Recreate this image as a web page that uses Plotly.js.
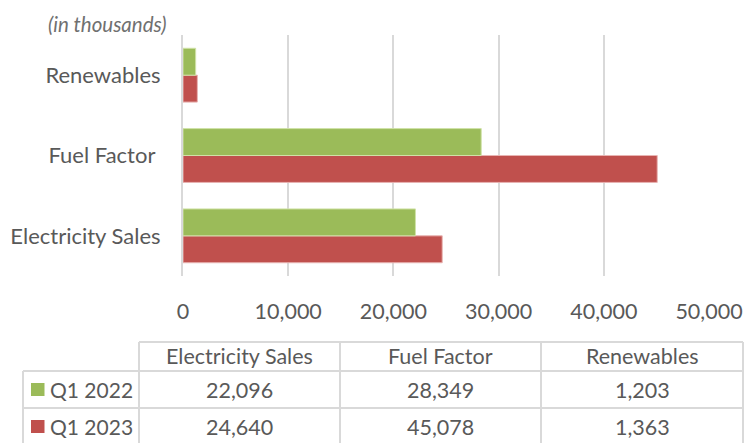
<!DOCTYPE html>
<html>
<head>
<meta charset="utf-8">
<script src="https://cdn.plot.ly/plotly-3.0.1.min.js"></script>
<style>html,body{margin:0;padding:0;background:#fff;}#chart{width:745px;height:443px;}</style>
</head>
<body>
<div id="chart"></div>
<script>
var categories = ['Electricity Sales', 'Fuel Factor', 'Renewables'];
var categoryTickLabels = ['Electricity Sales', 'Fuel Factor\u00A0', 'Renewables'];
var seriesNames = ['Q1 2022', 'Q1 2023'];
var q1_2022 = [22096, 28349, 1203];
var q1_2023 = [24640, 45078, 1363];
var xTicks = [0, 10000, 20000, 30000, 40000, 50000];
var unitNote = '(in thousands)';

var GREEN = '#9BBB59', RED = '#C0504D', GRID = '#D9D9D9', TXT = '#595959';
var FONT = 'Lato, "Open Sans", sans-serif';
var W = 745, H = 443;
var L = 183, R = 709, T = 35, B = 276;
function px(x) { return (x - L) / (R - L); }
function py(y) { return (B - y) / (B - T); }
function fmt(v) { return v.toLocaleString('en-US'); }

var traces = [
  { type: 'bar', orientation: 'h', name: seriesNames[1], y: categories, x: q1_2023,
    marker: { color: RED, line: { color: '#E8B4B2', width: 1 } }, hoverinfo: 'x+name' },
  { type: 'bar', orientation: 'h', name: seriesNames[0], y: categories, x: q1_2022,
    marker: { color: GREEN, line: { color: '#D0E2A8', width: 1 } }, hoverinfo: 'x+name' }
];

var shapes = [];
var annotations = [];
function line(x0, y0, x1, y1) {
  shapes.push({ type: 'line', xref: 'paper', yref: 'paper', x0: px(x0), y0: py(y0), x1: px(x1), y1: py(y1),
    line: { color: GRID, width: 2 }, layer: 'above' });
}
// table geometry
var colX = [23, 139, 340, 541, 743];
var rowY = [342, 371, 408, 450];
line(colX[1], rowY[0], colX[4], rowY[0]);
line(colX[0], rowY[1], colX[4], rowY[1]);
line(colX[0], rowY[2], colX[4], rowY[2]);
line(colX[0], rowY[1], colX[0], rowY[3]);
for (var c = 1; c < colX.length; c++) line(colX[c], rowY[0], colX[c], rowY[3]);

function txt(x, y, s, anchor, size, italic, color) {
  annotations.push({ xref: 'paper', yref: 'paper', x: px(x), y: py(y), text: s, showarrow: false,
    xanchor: anchor || 'center', yanchor: 'middle',
    font: { family: FONT, size: size || 21.5, color: color || TXT, style: italic ? 'italic' : 'normal' } });
}
// header
for (var i = 0; i < categories.length; i++) {
  txt((colX[i + 1] + colX[i + 2]) / 2, 356, categories[i]);
}
var tableRows = [q1_2022, q1_2023];
var rowColors = [GREEN, RED];
var rowCenters = [389.5, 426.5];
for (var r = 0; r < 2; r++) {
  var yc = rowCenters[r];
  shapes.push({ type: 'rect', xref: 'paper', yref: 'paper', x0: px(31), x1: px(44.5), y0: py(yc - 6.5), y1: py(yc + 6.5),
    fillcolor: rowColors[r], line: { width: 0 } });
  txt(47.5, yc, seriesNames[r], 'left', 21);
  for (var k = 0; k < categories.length; k++) {
    txt((colX[k + 1] + colX[k + 2]) / 2, yc, fmt(tableRows[r][k]));
  }
}
txt(46, 24, unitNote, 'left', 20.5, true, '#707070');

var layout = {
  width: W, height: H,
  margin: { l: L, r: W - R, t: T, b: H - B, pad: 0 },
  paper_bgcolor: '#fff', plot_bgcolor: '#fff',
  barmode: 'group', bargap: 0.33, bargroupgap: 0,
  showlegend: false,
  font: { family: FONT, color: TXT, size: 20 },
  xaxis: { range: [0, 50000], tickvals: xTicks, ticktext: xTicks.map(fmt), showgrid: true, gridcolor: GRID, gridwidth: 2,
    zeroline: false, showline: false, ticks: '', ticklabelstandoff: 20, tickfont: { family: FONT, size: 21.5, color: TXT }, fixedrange: true },
  yaxis: { type: 'category', categoryorder: 'array', categoryarray: categories, tickvals: categories, ticktext: categoryTickLabels,
    showgrid: false, zeroline: false, showline: true, linecolor: GRID, linewidth: 2, ticks: '', ticklabelstandoff: 16,
    tickfont: { family: FONT, size: 22, color: TXT }, range: [-0.5, 2.5], fixedrange: true },
  shapes: shapes,
  annotations: annotations
};

Plotly.newPlot('chart', traces, layout, { displayModeBar: false, staticPlot: true });
</script>
</body>
</html>
